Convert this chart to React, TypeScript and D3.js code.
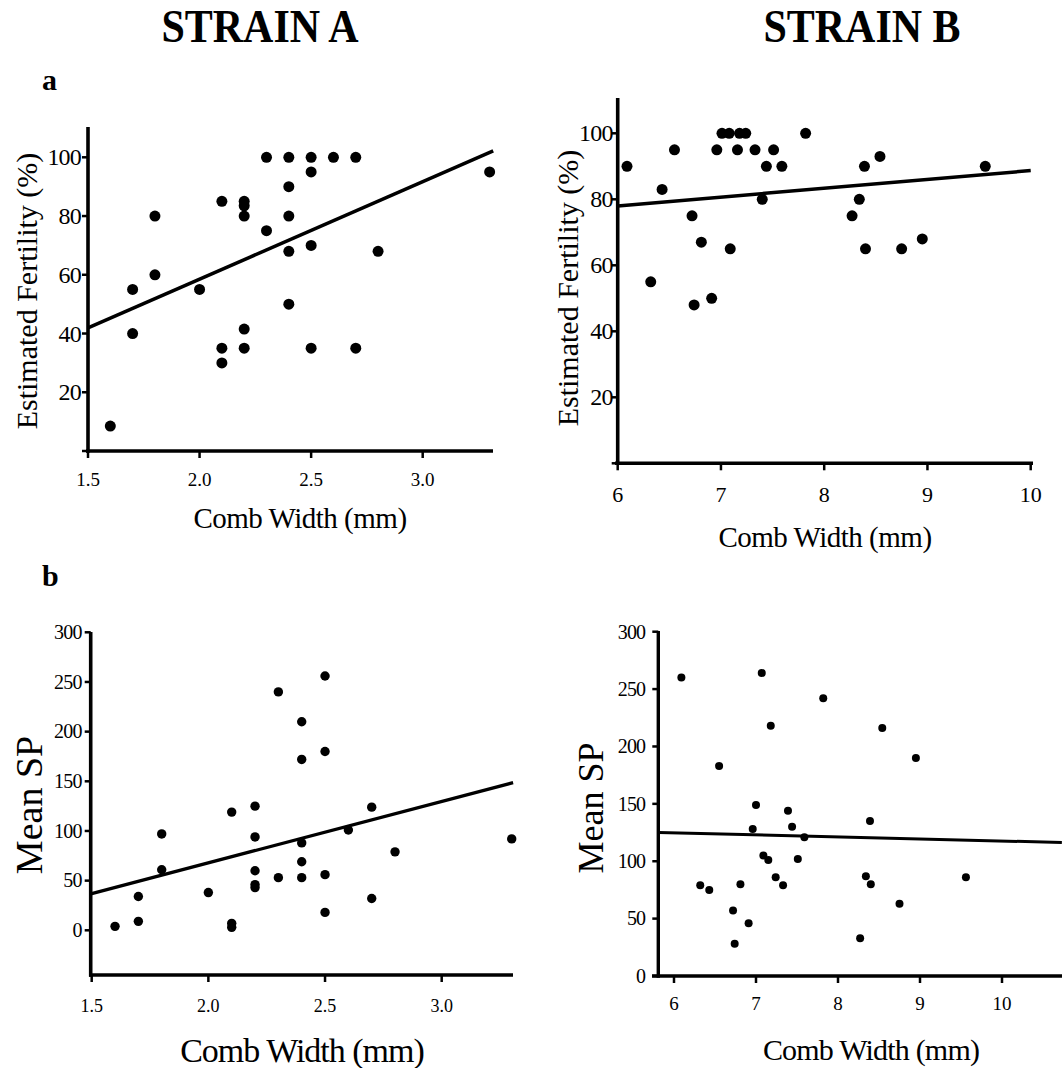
import React from 'react';
import * as d3 from 'd3';

// ---------- DATA ----------
const fertA_x = [1.6, 1.7, 1.7, 1.8, 1.8, 2.0, 2.1, 2.1, 2.1, 2.2, 2.2, 2.2, 2.2, 2.2, 2.3, 2.3, 2.4, 2.4, 2.4, 2.4, 2.4, 2.5, 2.5, 2.5, 2.5, 2.6, 2.7, 2.7, 2.8, 3.3];
const fertA_y = [8.5, 55, 40, 80, 60, 55, 85, 35, 30, 85, 83.5, 80, 41.5, 35, 100, 75, 100, 90, 80, 68, 50, 100, 95, 70, 35, 100, 100, 35, 68, 95];
const fertA_fit = [-7.9, 33.2]; // intercept, slope

const fertB_x = [6.09, 6.32, 6.43, 6.55, 6.72, 6.74, 6.81, 6.91, 6.96, 7.01, 7.08, 7.09, 7.16, 7.18, 7.24, 7.33, 7.40, 7.44, 7.51, 7.59, 7.82, 8.27, 8.34, 8.39, 8.40, 8.54, 8.75, 8.95, 9.56];
const fertB_y = [90, 55, 83, 95, 75, 48, 67, 50, 95, 100, 100, 65, 95, 100, 100, 95, 80, 90, 95, 90, 100, 75, 80, 90, 65, 93, 65, 68, 90];
const fertB_fit = [61.95, 2.675];

const spA_x = [1.6, 1.7, 1.7, 1.8, 1.8, 2.0, 2.1, 2.1, 2.1, 2.2, 2.2, 2.2, 2.2, 2.2, 2.3, 2.3, 2.4, 2.4, 2.4, 2.4, 2.4, 2.5, 2.5, 2.5, 2.5, 2.6, 2.7, 2.7, 2.8, 3.3];
const spA_y = [4, 34, 9, 97, 61, 38, 119, 7, 3, 125, 94, 60, 46, 43, 240, 53, 210, 172, 88, 69, 53, 256, 180, 56, 18, 101, 124, 32, 79, 92];
const spA_fit = [-55.8, 61.85];

const spB_x = [6.09, 6.32, 6.43, 6.55, 6.72, 6.74, 6.81, 6.91, 6.96, 7.00, 7.07, 7.09, 7.15, 7.18, 7.24, 7.33, 7.39, 7.44, 7.51, 7.59, 7.82, 8.27, 8.34, 8.39, 8.40, 8.54, 8.75, 8.95, 9.56];
const spB_y = [260, 79, 75, 183, 57, 28, 80, 46, 128, 149, 264, 105, 101, 218, 86, 79, 144, 130, 102, 121, 242, 33, 87, 135, 80, 216, 63, 190, 86];
const spB_fit = [135.3, -1.768];

const ticksXA = [1.5, 2.0, 2.5, 3.0];
const ticksXB = [6, 7, 8, 9, 10];
const ticksFert = [0, 20, 40, 60, 80, 100];
const ticksSP = [0, 50, 100, 150, 200, 250, 300];

const titles = ['STRAIN A', 'STRAIN B'];
const panelLetters = ['a', 'b'];
const xLabel = 'Comb Width (mm)';
const yLabelFert = 'Estimated Fertility (%)';
const yLabelSP = 'Mean SP';

const FONT = '"Liberation Serif", "Times New Roman", serif';

type PanelProps = {
  xs: number[];
  ys: number[];
  fit: number[];
  xScale: d3.ScaleLinear<number, number>;
  yScale: d3.ScaleLinear<number, number>;
  xTicks: number[];
  xFmt: (v: number) => string;
  yTicks: number[];
  yLabelSkip0: boolean;
  axisXStart: number;
  axisXEnd: number;
  axisY: number;
  axisYX: number;
  axisYTop: number;
  fitX: [number, number];
  r: number;
  xTickFont: number;
  xTickBaseline: number;
  yTickFont: number;
  yTickGap: number;
  lineW: number;
  axisW: number;
};

function Panel(p: PanelProps) {
  const line = d3
    .line<number>()
    .x((d) => p.xScale(d))
    .y((d) => p.yScale(p.fit[0] + p.fit[1] * d));
  return (
    <g>
      {/* axes */}
      <line x1={p.axisXStart} x2={p.axisXEnd} y1={p.axisY} y2={p.axisY} stroke="#000" strokeWidth={p.axisW} />
      <line x1={p.axisYX} x2={p.axisYX} y1={p.axisY + p.axisW / 2} y2={p.axisYTop} stroke="#000" strokeWidth={p.axisW} />
      {p.xTicks.map((t) => (
        <g key={'xt' + t}>
          <line x1={p.xScale(t)} x2={p.xScale(t)} y1={p.axisY} y2={p.axisY + 7} stroke="#000" strokeWidth={2.5} />
          <text x={p.xScale(t)} y={p.xTickBaseline} textAnchor="middle" fontSize={p.xTickFont} fontFamily={FONT}>
            {p.xFmt(t)}
          </text>
        </g>
      ))}
      {p.yTicks.map((t) => (
        <g key={'yt' + t}>
          <line x1={p.axisYX - 6} x2={p.axisYX} y1={p.yScale(t)} y2={p.yScale(t)} stroke="#000" strokeWidth={2.5} />
          {!(p.yLabelSkip0 && t === 0) && (
            <text
              x={p.axisYX - p.yTickGap}
              y={p.yScale(t)}
              dy="0.34em"
              textAnchor="end"
              fontSize={p.yTickFont}
              fontFamily={FONT}
              letterSpacing={-0.8}
            >
              {t}
            </text>
          )}
        </g>
      ))}
      <path d={line(p.fitX) || ''} stroke="#000" strokeWidth={p.lineW} fill="none" />
      {p.xs.map((x, i) => (
        <circle key={i} cx={p.xScale(x)} cy={p.yScale(p.ys[i])} r={p.r} fill="#000" />
      ))}
    </g>
  );
}

export default function App() {
  const xA1 = d3.scaleLinear().domain([1.5, 3.0]).range([88, 422.7]);
  const yA1 = d3.scaleLinear().domain([0, 100]).range([451, 157.3]);
  const xB1 = d3.scaleLinear().domain([6, 10]).range([617.7, 1030.7]);
  const yB1 = d3.scaleLinear().domain([0, 100]).range([463.3, 133.3]);
  const xA2 = d3.scaleLinear().domain([1.5, 3.0]).range([91.7, 441.7]);
  const yA2 = d3.scaleLinear().domain([0, 300]).range([930.3, 632.3]);
  const xB2 = d3.scaleLinear().domain([6, 10]).range([674, 1002]);
  const yB2 = d3.scaleLinear().domain([0, 300]).range([976, 631.7]);

  const fmt1 = d3.format('.1f');
  const fmt0 = d3.format('d');

  return (
    <svg
      width={1062}
      height={1068}
      style={{ position: 'absolute', left: 0, top: 0, background: '#fff' }}
      fontFamily={FONT}
    >
      <rect width={1062} height={1068} fill="#fff" />
      {/* titles */}
      <text transform="translate(260,42) scale(1,1.12)" textAnchor="middle" fontSize={42} fontWeight="bold">
        {titles[0]}
      </text>
      <text transform="translate(862,42) scale(1,1.12)" textAnchor="middle" fontSize={42} fontWeight="bold">
        {titles[1]}
      </text>
      <text x={42} y={90} fontSize={30} fontWeight="bold">{panelLetters[0]}</text>
      <text x={42} y={586} fontSize={30} fontWeight="bold">{panelLetters[1]}</text>

      {/* Panel a, strain A */}
      <Panel
        xs={fertA_x} ys={fertA_y} fit={fertA_fit}
        xScale={xA1} yScale={yA1}
        xTicks={ticksXA} xFmt={fmt1} yTicks={ticksFert} yLabelSkip0={true}
        axisXStart={86} axisXEnd={493} axisY={451} axisYX={88} axisYTop={127}
        fitX={[1.5, 3.316]} r={5.5}
        xTickFont={19} xTickBaseline={486} yTickFont={24} yTickGap={7}
        lineW={3.5} axisW={3.6}
      />
      <text transform="translate(37,291) rotate(-90)" textAnchor="middle" fontSize={30}>{yLabelFert}</text>
      <text x={300} y={528} textAnchor="middle" fontSize={29} letterSpacing={-0.5}>{xLabel}</text>

      {/* Panel a, strain B */}
      <Panel
        xs={fertB_x} ys={fertB_y} fit={fertB_fit}
        xScale={xB1} yScale={yB1}
        xTicks={ticksXB} xFmt={fmt0} yTicks={ticksFert} yLabelSkip0={true}
        axisXStart={615} axisXEnd={1033} axisY={463.3} axisYX={617.7} axisYTop={98}
        fitX={[6, 10]} r={5.5}
        xTickFont={22} xTickBaseline={502} yTickFont={24} yTickGap={5}
        lineW={3.5} axisW={3.6}
      />
      <text transform="translate(578,288) rotate(-90)" textAnchor="middle" fontSize={30}>{yLabelFert}</text>
      <text x={825} y={547} textAnchor="middle" fontSize={29} letterSpacing={-0.5}>{xLabel}</text>

      {/* Panel b, strain A */}
      <Panel
        xs={spA_x} ys={spA_y} fit={spA_fit}
        xScale={xA2} yScale={yA2}
        xTicks={ticksXA} xFmt={fmt1} yTicks={ticksSP} yLabelSkip0={false}
        axisXStart={89} axisXEnd={513} axisY={975} axisYX={90.7} axisYTop={632}
        fitX={[1.5, 3.306]} r={4.7}
        xTickFont={18} xTickBaseline={1012} yTickFont={20} yTickGap={9}
        lineW={3.3} axisW={3.6}
      />
      <text transform="translate(42,805) rotate(-90)" textAnchor="middle" fontSize={38}>{yLabelSP}</text>
      <text x={302} y={1062} textAnchor="middle" fontSize={34} letterSpacing={-1}>{xLabel}</text>

      {/* Panel b, strain B */}
      <Panel
        xs={spB_x} ys={spB_y} fit={spB_fit}
        xScale={xB2} yScale={yB2}
        xTicks={ticksXB} xFmt={fmt0} yTicks={ticksSP} yLabelSkip0={false}
        axisXStart={652} axisXEnd={1064} axisY={976} axisYX={658.3} axisYTop={631}
        fitX={[5.81, 10.73]} r={4}
        xTickFont={19} xTickBaseline={1010} yTickFont={20} yTickGap={13}
        lineW={3} axisW={3.4}
      />
      <text transform="translate(603,808) rotate(-90)" textAnchor="middle" fontSize={36}>{yLabelSP}</text>
      <text x={871} y={1060} textAnchor="middle" fontSize={30} letterSpacing={-0.8}>{xLabel}</text>
    </svg>
  );
}
